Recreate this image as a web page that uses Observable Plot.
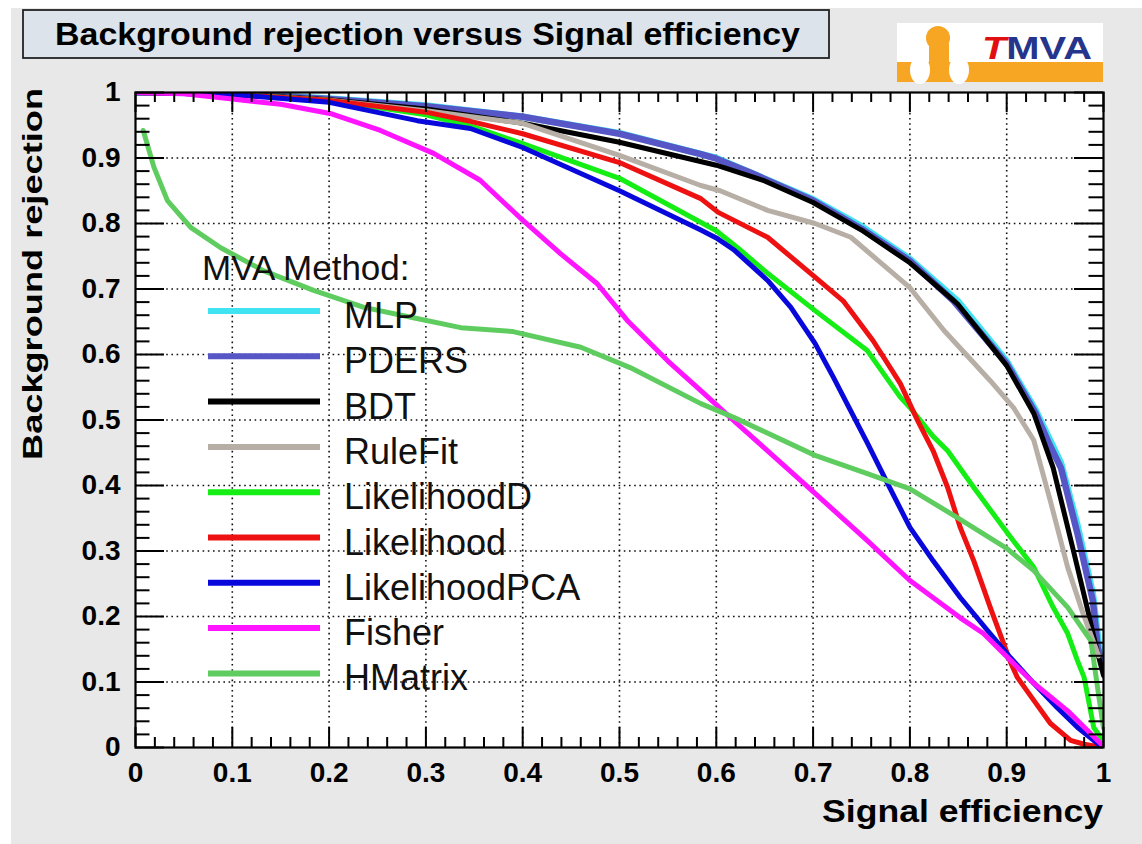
<!DOCTYPE html>
<html><head><meta charset="utf-8">
<script src="https://cdn.jsdelivr.net/npm/d3@7"></script>
<script src="https://cdn.jsdelivr.net/npm/@observablehq/plot@0.6"></script>
<style>
html,body{margin:0;padding:0;background:#fff;}
#wrap{position:absolute;left:11px;top:8px;width:1131px;height:836px;background:#e8e8e8;}
g[aria-label="x-axis tick label"], g[aria-label="y-axis tick label"]{font-size:28px;font-weight:bold;fill:#000;}
</style></head><body><div id="wrap"></div>
<script>
// ---- data (signal efficiency, background rejection) ----
const methods = ["MLP","PDERS","BDT","RuleFit","LikelihoodD","Likelihood","LikelihoodPCA","Fisher","HMatrix"];
const colors  = ["#3fe3f2","#5656c6","#000000","#b7afa5","#14ee14","#ee1111","#0808dd","#ff14ff","#5fcc5f"];
const widths  = [6.5,6.5,5,5,5,5,5,5,5];

const MLP = [[0,1],[0.1,0.999],[0.2,0.991],[0.3,0.98],[0.4,0.963],[0.5,0.938],[0.6,0.9],[0.7,0.837],[0.75,0.796],[0.8,0.746],[0.85,0.681],[0.9,0.59],[0.93,0.515],[0.956,0.435],[0.973,0.34],[0.989,0.235],[0.995,0.16],[1,0.13]];
const PDERS = [[0,1],[0.05,1],[0.1,0.998],[0.2,0.99],[0.3,0.979],[0.4,0.963],[0.5,0.937],[0.584,0.906],[0.6,0.899],[0.635,0.878],[0.7,0.835],[0.75,0.792],[0.8,0.743],[0.845,0.682],[0.9,0.586],[0.93,0.51],[0.945,0.46],[0.956,0.427],[0.973,0.327],[0.989,0.224],[0.994,0.153],[1,0.12]];
const BDT = [[0,1],[0.1,0.998],[0.2,0.989],[0.3,0.975],[0.4,0.953],[0.5,0.924],[0.6,0.889],[0.65,0.865],[0.7,0.832],[0.75,0.79],[0.8,0.74],[0.85,0.676],[0.9,0.583],[0.928,0.51],[0.948,0.427],[0.969,0.3],[0.983,0.214],[0.993,0.15],[1,0.11]];
const RuleFit = [[0,1],[0.1,0.997],[0.2,0.988],[0.3,0.972],[0.4,0.953],[0.5,0.904],[0.584,0.858],[0.604,0.85],[0.653,0.82],[0.702,0.8],[0.739,0.779],[0.8,0.702],[0.835,0.637],[0.883,0.56],[0.907,0.519],[0.928,0.469],[0.945,0.377],[0.963,0.275],[0.979,0.204],[0.995,0.14]];
const LikelihoodD = [[0,1],[0.1,0.997],[0.2,0.988],[0.3,0.966],[0.35,0.947],[0.4,0.922],[0.5,0.869],[0.6,0.789],[0.622,0.763],[0.653,0.724],[0.702,0.667],[0.756,0.606],[0.79,0.535],[0.8,0.519],[0.824,0.475],[0.839,0.453],[0.866,0.397],[0.901,0.327],[0.928,0.275],[0.948,0.214],[0.963,0.174],[0.973,0.133],[0.98,0.107],[0.99,0.03],[1,0.01]];
const Likelihood = [[0,1],[0.1,0.997],[0.2,0.988],[0.3,0.97],[0.346,0.956],[0.4,0.937],[0.5,0.893],[0.584,0.838],[0.602,0.817],[0.653,0.779],[0.702,0.718],[0.731,0.682],[0.762,0.621],[0.79,0.556],[0.808,0.499],[0.824,0.453],[0.839,0.397],[0.852,0.336],[0.866,0.285],[0.883,0.214],[0.904,0.13],[0.911,0.107],[0.928,0.072],[0.945,0.037],[0.966,0.011],[0.98,0.005],[1,0]];
const LikelihoodPCA = [[0,1],[0.1,0.997],[0.2,0.985],[0.291,0.957],[0.346,0.945],[0.4,0.916],[0.5,0.85],[0.584,0.79],[0.6,0.778],[0.618,0.76],[0.653,0.713],[0.677,0.672],[0.702,0.617],[0.721,0.565],[0.735,0.525],[0.756,0.465],[0.777,0.403],[0.8,0.336],[0.824,0.285],[0.852,0.229],[0.88,0.179],[0.904,0.137],[0.928,0.098],[0.952,0.061],[0.973,0.031],[0.994,0.006],[1,0]];
const Fisher = [[0,1],[0.05,0.998],[0.1,0.99],[0.15,0.982],[0.201,0.968],[0.253,0.942],[0.308,0.907],[0.356,0.866],[0.4,0.805],[0.439,0.754],[0.477,0.708],[0.508,0.652],[0.55,0.59],[0.584,0.545],[0.618,0.499],[0.653,0.453],[0.702,0.388],[0.756,0.316],[0.8,0.255],[0.852,0.198],[0.876,0.174],[0.904,0.133],[0.928,0.098],[0.963,0.056],[0.997,0.006],[1,0]];
const HMatrix = [[0.008,0.942],[0.019,0.886],[0.033,0.835],[0.057,0.794],[0.088,0.763],[0.132,0.728],[0.184,0.698],[0.236,0.672],[0.287,0.656],[0.336,0.641],[0.39,0.635],[0.46,0.611],[0.511,0.58],[0.584,0.525],[0.618,0.504],[0.702,0.446],[0.756,0.418],[0.8,0.395],[0.849,0.351],[0.9,0.304],[0.928,0.27],[0.963,0.214],[0.987,0.163],[0.995,0.08],[1,0.03]];
const series = [MLP,PDERS,BDT,RuleFit,LikelihoodD,Likelihood,LikelihoodPCA,Fisher,HMatrix];

const xTicks = [0,0.1,0.2,0.3,0.4,0.5,0.6,0.7,0.8,0.9,1];
const yTicks = [0,0.1,0.2,0.3,0.4,0.5,0.6,0.7,0.8,0.9,1];
const titleText = "Background rejection versus Signal efficiency";
const xLabel = "Signal efficiency";
const yLabel = "Background rejection";
const legendTitle = "MVA Method:";

// ---- build ----
const rows = methods.flatMap((m,i)=>series[i].map(([e,r])=>({method:m, eff:e, rej:r})));
const W=1131, H=836, mL=124, mR=39, mT=84, mB=97;
const pw=W-mL-mR, ph=H-mT-mB;
const minor = d3.range(0,1.0001,0.02).map(v=>+v.toFixed(2)).filter(v=>Math.abs(v*10-Math.round(v*10))>1e-6);
const gridV = xTicks.slice(1,-1);
const gridH = yTicks.slice(1,-1);
const xMajLen=20, xMinLen=10, yMajLen=29, yMinLen=14.5;

const marks = [
  Plot.frame({fill:"white", stroke:"none"}),
  Plot.ruleX(gridV,{x:d=>d, stroke:"#111", strokeWidth:1.6, strokeDasharray:"1.6,3.6"}),
  Plot.ruleY(gridH,{y:d=>d, stroke:"#111", strokeWidth:1.6, strokeDasharray:"1.6,3.6"}),
  ...methods.map((m,i)=>Plot.line(rows.filter(r=>r.method===m),{x:"eff", y:"rej", stroke:colors[i], strokeWidth:widths[i], strokeLinejoin:"round", clip:true})),
  Plot.tickX(xTicks,{x:d=>d, insetTop:ph-xMajLen, stroke:"#000", strokeWidth:2}),
  Plot.tickX(minor,{x:d=>d, insetTop:ph-xMinLen, stroke:"#000", strokeWidth:2}),
  Plot.tickX(xTicks,{x:d=>d, insetBottom:ph-xMajLen, stroke:"#000", strokeWidth:2}),
  Plot.tickX(minor,{x:d=>d, insetBottom:ph-xMinLen, stroke:"#000", strokeWidth:2}),
  Plot.tickY(yTicks,{y:d=>d, insetRight:pw-yMajLen, stroke:"#000", strokeWidth:2}),
  Plot.tickY(minor,{y:d=>d, insetRight:pw-yMinLen, stroke:"#000", strokeWidth:2}),
  Plot.tickY(yTicks,{y:d=>d, insetLeft:pw-yMajLen, stroke:"#000", strokeWidth:2}),
  Plot.tickY(minor,{y:d=>d, insetLeft:pw-yMinLen, stroke:"#000", strokeWidth:2}),
  Plot.frame({stroke:"#000", strokeWidth:2.2}),
  Plot.axisX(xTicks,{tickSize:0, tickPadding:15, tickFormat:d=>String(d), fontSize:28, fontWeight:"bold", label:null}),
  Plot.axisY(yTicks,{tickSize:0, tickPadding:15, tickFormat:d=>String(d), fontSize:28, fontWeight:"bold", label:null})
];

const svgNode = Plot.plot({
  width:W, height:H, marginLeft:mL, marginRight:mR, marginTop:mT, marginBottom:mB,
  x:{domain:[0,1], label:null}, y:{domain:[0,1], label:null},
  style:{background:"#e8e8e8", fontFamily:"'Liberation Sans', Arial, sans-serif", maxWidth:"none", overflow:"visible"},
  marks
});
document.getElementById("wrap").appendChild(svgNode);

const svg = d3.select(svgNode);
const ff = "'Liberation Sans', Arial, sans-serif";

// title box
svg.append("rect").attr("x",12).attr("y",2).attr("width",806).attr("height",48)
  .attr("fill","#dde3ea").attr("stroke","#222").attr("stroke-width",1.8);
svg.append("text").attr("x",44).attr("y",37).attr("text-anchor","start").attr("font-family",ff).attr("font-weight","bold")
  .attr("font-size",31).attr("textLength",745).attr("lengthAdjust","spacingAndGlyphs").text(titleText);

// logo
const lg = svg.append("g");
lg.append("rect").attr("x",886).attr("y",15).attr("width",206).attr("height",59).attr("fill","#ffffff");
lg.append("rect").attr("x",886).attr("y",54).attr("width",206).attr("height",20).attr("fill","#f6a623");
lg.append("circle").attr("cx",927).attr("cy",30).attr("r",12).attr("fill","#f6a623");
lg.append("rect").attr("x",918).attr("y",36).attr("width",20).attr("height",38).attr("fill","#f6a623");
lg.append("ellipse").attr("cx",909).attr("cy",62).attr("rx",10).attr("ry",14).attr("fill","#ffffff");
lg.append("ellipse").attr("cx",948).attr("cy",62).attr("rx",10).attr("ry",14).attr("fill","#ffffff");
const lt = lg.append("text").attr("x",971).attr("y",51).attr("text-anchor","start").attr("font-family",ff).attr("font-weight","bold")
  .attr("font-size",31).attr("textLength",110).attr("lengthAdjust","spacingAndGlyphs");
lt.append("tspan").attr("fill","#e01010").attr("font-style","italic").text("T");
lt.append("tspan").attr("fill","#26358c").text("MVA");

// axis titles
svg.append("text").attr("x",1092).attr("y",814).attr("text-anchor","end").attr("font-family",ff)
  .attr("font-weight","bold").attr("font-size",31).attr("textLength",281).attr("lengthAdjust","spacingAndGlyphs").text(xLabel);
svg.append("text").attr("transform","translate(31,266) rotate(-90)").attr("text-anchor","middle").attr("font-family",ff)
  .attr("font-weight","bold").attr("font-size",28).attr("textLength",372).attr("lengthAdjust","spacingAndGlyphs").text(yLabel);

// legend
const leg = svg.append("g").attr("font-family",ff).attr("text-anchor","start");
leg.append("text").attr("x",191).attr("y",272).attr("font-size",35).attr("fill","#111").text(legendTitle);
methods.forEach((m,i)=>{
  const yy = 303 + 45.3*i;
  leg.append("line").attr("x1",197).attr("x2",309).attr("y1",yy).attr("y2",yy)
    .attr("stroke",colors[i]).attr("stroke-width",6);
  leg.append("text").attr("x",333).attr("y",yy+17).attr("font-size",36).attr("fill","#111").text(m);
});
</script></body></html>
